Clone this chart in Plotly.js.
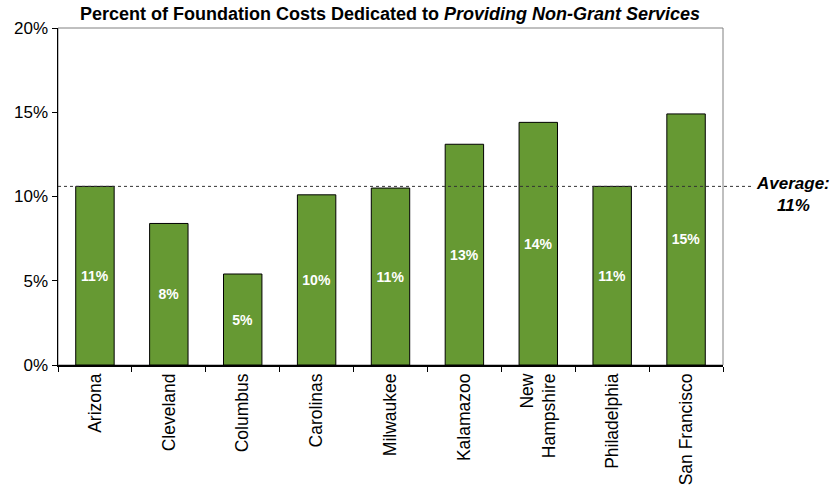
<!DOCTYPE html>
<html>
<head>
<meta charset="utf-8">
<script src="https://cdn.plot.ly/plotly-3.0.1.min.js"></script>
<style>html,body{margin:0;padding:0;background:#fff;}#chart{width:835px;height:487px;}</style>
</head>
<body>
<div id="chart"></div>
<script>
const categories = ["Arizona", "Cleveland", "Columbus", "Carolinas", "Milwaukee", "Kalamazoo", "New<br>Hampshire", "Philadelphia", "San Francisco"];
const values = [10.6, 8.4, 5.4, 10.1, 10.5, 13.1, 14.4, 10.6, 14.9];
const valueLabels = ["11%", "8%", "5%", "10%", "11%", "13%", "14%", "11%", "15%"];
const averageValue = 10.6;
const averageLabel = "Average:<br>11%";
const yTickVals = [0, 5, 10, 15, 20];
const yTickText = ["0%", "5%", "10%", "15%", "20%"];
const titleText = "<b>Percent of Foundation Costs Dedicated to <i>Providing Non-Grant Services</i></b>";

const FONT = "Liberation Sans, Arial, sans-serif";

const trace = {
  type: "bar",
  x: categories,
  y: values,
  text: valueLabels,
  textposition: "inside",
  insidetextanchor: "middle",
  textangle: 0,
  textfont: {family: FONT, size: 14, color: "#ffffff"},
  texttemplate: "<b>%{text}</b>",
  marker: {color: "#669933", line: {color: "#000000", width: 1}},
  hoverinfo: "none"
};

const layout = {
  width: 835, height: 487,
  margin: {l: 58, r: 112, t: 28, b: 122, pad: 0},
  paper_bgcolor: "#ffffff", plot_bgcolor: "#ffffff",
  font: {family: FONT, color: "#000000"},
  showlegend: false,
  bargap: 0.48,
  title: {text: titleText, x: 0.467, xanchor: "center", y: 0.972, yanchor: "middle",
          font: {size: 18, family: FONT, color: "#000"}},
  xaxis: {
    type: "category",
    tickangle: -90,
    tickson: "boundaries",
    ticks: "outside", ticklen: 5, tickcolor: "#000",
    showline: true, linecolor: "#000", linewidth: 1.5,
    showgrid: false, zeroline: false,
    tickfont: {size: 17.5, family: FONT, color: "#000"},
    fixedrange: true
  },
  yaxis: {
    range: [0, 20],
    tickvals: yTickVals, ticktext: yTickText,
    ticks: "outside", ticklen: 5, tickcolor: "#000",
    showline: true, linecolor: "#000", linewidth: 1.5,
    showgrid: false, zeroline: false,
    tickfont: {size: 17, family: FONT, color: "#000"},
    fixedrange: true
  },
  shapes: [
    {type: "rect", xref: "paper", yref: "paper", x0: 0, x1: 1, y0: 0, y1: 1,
     line: {color: "#808080", width: 1}, layer: "below"},
    {type: "line", xref: "paper", yref: "y", x0: 0, x1: 1.044, y0: averageValue, y1: averageValue,
     line: {color: "#333333", width: 1, dash: "dot"}, layer: "above"}
  ],
  annotations: [
    {xref: "paper", yref: "y", x: 1.106, y: averageValue, yanchor: "top", xanchor: "center",
     text: "<b><i>" + averageLabel + "</i></b>", showarrow: false, align: "center",
     font: {size: 17, family: FONT, color: "#000"}, yshift: 14}
  ]
};

Plotly.newPlot("chart", [trace], layout, {displayModeBar: false, staticPlot: true});
</script>
</body>
</html>
